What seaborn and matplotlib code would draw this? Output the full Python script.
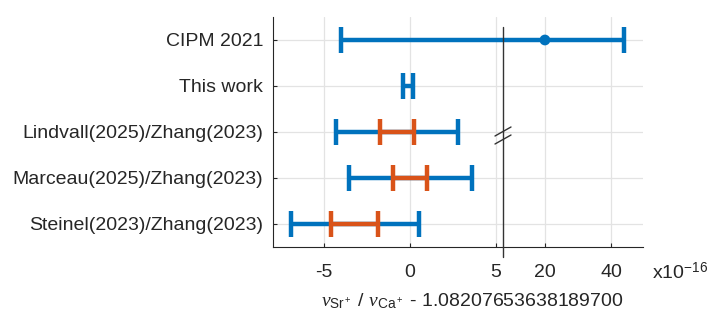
import numpy as np
import matplotlib
matplotlib.use("Agg")
import matplotlib.pyplot as plt
import seaborn as sns

labels = ["CIPM 2021", "This work", "Lindvall(2025)/Zhang(2023)",
          "Marceau(2025)/Zhang(2023)", "Steinel(2023)/Zhang(2023)"]
centers = [20.0, -0.12, -0.76, 0.0, -3.22]
total_unc = [24.0, 0.29, 3.57, 3.58, 3.73]
stat_unc = [np.nan, np.nan, 1.0, 1.01, 1.35]
xticks = [-5, 0, 5, 20, 40]

sns.set_theme(style="whitegrid")
plt.rcParams['font.family'] = ['Liberation Sans', 'DejaVu Sans']
plt.rcParams['mathtext.fontset'] = 'custom'
plt.rcParams['mathtext.rm'] = 'Liberation Sans'
plt.rcParams['mathtext.it'] = 'Liberation Serif:italic'

# broken axis: linear up to 5.4, compressed beyond 7.3
B, C, K = 5.4, 7.3, 0.192


def fwd(x):
    x = np.asarray(x, dtype=float)
    out = np.where(x <= B, x, np.where(x >= C, B + (x - C) * K, B))
    return np.where(np.isnan(x), np.nan, out)


def inv(y):
    y = np.asarray(y, dtype=float)
    out = np.where(y <= B, y, C + (y - B) / K)
    return np.where(np.isnan(y), np.nan, out)


blue = "#0072BD"
orange = "#D95319"

fig = plt.figure(figsize=(7.18, 3.21), dpi=100)
ax = fig.add_axes([273 / 718, 1 - 247 / 321, 370 / 718, 230 / 321])
ax.set_xscale("function", functions=(fwd, inv))

ypos = np.arange(1, len(labels) + 1)
ax.errorbar(centers, ypos, xerr=total_unc, fmt="none", ecolor=blue,
            elinewidth=3.2, capsize=9.5, capthick=3.2)
has_stat = ~np.isnan(stat_unc)
ax.errorbar(np.array(centers)[has_stat], ypos[has_stat],
            xerr=np.array(stat_unc)[has_stat], fmt="none", ecolor=orange,
            elinewidth=3.2, capsize=9.5, capthick=3.2)
sns.scatterplot(x=centers[:1], y=ypos[:1], color=blue, s=60, ax=ax,
                edgecolor="none", zorder=5)

ax.set_xlim(-7.97, 49.7)
ax.set_ylim(5.5, 0.5)
ax.set_xticks(xticks)
ax.set_xticklabels([str(t) for t in xticks])
ax.set_yticks(ypos)
ax.set_yticklabels(labels)
ax.tick_params(axis="both", labelsize=14, colors="#262626", direction="in",
               length=3, width=0.8)
ax.tick_params(axis="y", pad=7, left=True)
ax.tick_params(axis="x", pad=12, bottom=True)
ax.grid(True, color="#e3e3e3", linewidth=0.9)
for s in ["top", "right"]:
    ax.spines[s].set_visible(False)
for s in ["left", "bottom"]:
    ax.spines[s].set_color("#262626")
    ax.spines[s].set_linewidth(0.8)

# break line and marks
bx = (503 - 273) / 370
ax.plot([bx, bx], [-0.043, 0.957], transform=ax.transAxes, color="#333333",
        lw=1.0, clip_on=False, zorder=6)
for dy in (0.0, 8 / 230):
    ax.plot([bx - 8 / 370, bx + 8 / 370],
            [0.5 - 4 / 230 - dy, 0.5 + 4 / 230 - dy + 1 / 230],
            transform=ax.transAxes, color="#333333", lw=1.0,
            clip_on=False, zorder=7)

fig.text(652 / 718, 1 - 272 / 321, r"x10$^{-16}$", fontsize=14,
         color="#262626", va="center", ha="left")
fig.text(472 / 718, 1 - 301 / 321,
         r"$\nu_{\mathrm{Sr^+}}$ / $\nu_{\mathrm{Ca^+}}$ - 1.08207653638189700",
         fontsize=14, color="#262626", ha="center", va="center")

fig.savefig("out.png", dpi=100)
